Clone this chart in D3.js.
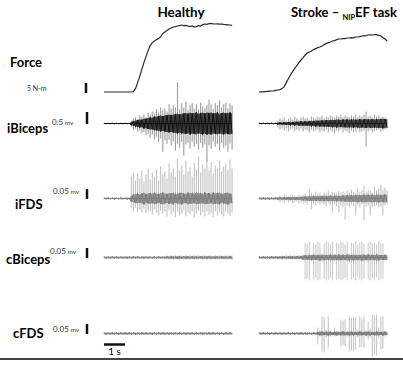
<!DOCTYPE html>
<html>
<head>
<meta charset="utf-8">
<script src="https://cdn.jsdelivr.net/npm/d3@7"></script>
<style>
  body { margin: 0; background: #fff; }
  text { font-family: Lato, "Open Sans", sans-serif; }
</style>
</head>
<body>
<svg id="chart"></svg>
<script>
// one sample every 0.1 s, 62 samples per trace (0 .. 6.1 s)
const sampleStep = 0.1;

// force, N-m
const forceHealthy = [0,0,0,0,0,0,0,0,0,0,0,0,0,0,0.2,1.7,4.7,7.7,11.2,14.7,17.7,20.7,23.2,24.7,25.5,26.2,26.7,27.7,29.2,30,
  30.7,31.5,32,32.5,32.7,33,33.2,33.5,33.2,33.3,33,32.7,33,32.5,32.7,33.2,33,33.7,34,33.8,34.2,34.3,34.1,34,34.1,33.9,34,33.8,33.7,33.6,33.5,33.3];
const forceStroke = [0,0.1,0.1,0.2,0.3,0.4,0.5,0.6,0.8,1,1.2,1.7,2.7,4.7,6.7,8.5,10.2,11.7,13.2,14.7,16,17.2,18.5,19.5,20,20.5,21.2,21.7,22.2,22.5,
  23,23.7,24.2,24.7,25,25.5,25.7,26.2,26.5,26.5,26.7,26.7,27,27,27.2,27.1,27.5,27.5,27.7,28,28.1,28.2,28.5,28.6,28.5,28.7,28.7,28.3,28,27.2,26.5,25.5];

// EMG, microvolts: dense core amplitude, peak above, peak below
const iBicepsHealthyCore = [10,12,10,11,10,12,10,11,10,12,10,11,12,60,100,130,150,170,160,210,200,230,250,240,290,280,310,330,300,340,350,370,350,380,400,420,370,410,420,440,410,460,420,440,460,410,440,460,420,460,440,460,420,440,460,410,440,460,420,440,460,420];
const iBicepsHealthyUp = [17,20,15,18,17,20,15,18,17,20,15,18,20,130,210,250,170,340,290,380,250,460,380,500,420,590,460,670,550,630,500,800,630,760,670,1720,590,840,670,920,550,760,840,630,800,590,880,710,630,760,1000,800,590,840,760,960,670,800,880,630,840,760];
const iBicepsHealthyDown = [17,15,20,17,18,15,20,17,18,15,20,17,15,130,250,210,340,290,420,340,500,420,590,460,670,550,760,630,1180,710,840,670,920,760,1130,840,1010,760,1340,880,800,1050,760,970,840,1090,800,1010,880,1600,920,1050,760,970,840,1130,800,1010,920,1180,840,1090];
const iBicepsStrokeCore = [17,15,17,18,15,17,16,18,17,42,50,42,63,55,63,76,63,84,76,84,92,84,105,92,105,118,105,126,118,126,134,126,147,134,147,160,147,168,160,147,168,160,176,160,168,176,160,168,189,168,176,189,168,181,189,168,189,176,189,202,189,168];
const iBicepsStrokeUp = [20,21,19,22,20,21,19,20,21,126,210,168,252,126,210,252,168,294,210,168,252,294,210,252,168,294,252,210,294,252,336,210,294,252,336,294,252,336,294,378,252,336,294,252,336,294,378,252,336,294,378,504,294,336,252,378,294,336,252,294,252,210];
const iBicepsStrokeDown = [18,20,21,19,20,22,19,21,20,168,252,210,294,210,336,252,210,336,252,294,210,336,252,294,378,252,336,294,252,378,294,336,252,378,294,336,420,294,336,252,378,294,336,420,294,378,336,252,378,336,294,970,336,294,378,336,294,252,336,294,252,210];

const iFdsHealthyCore = [3,3,4,3,3,4,3,3,4,3,3,4,3,15,20,23,25,20,25,30,23,25,28,23,30,25,23,28,30,25,23,28,25,30,23,25,28,30,25,23,30,25,28,23,30,25,28,23,30,25,28,23,30,25,28,30,23,25,28,30,25,23];
const iFdsHealthyUp = [4,5,4,4,5,4,5,4,4,5,4,5,4,110,130,90,125,100,140,85,120,150,95,130,110,145,90,160,120,135,100,175,130,150,110,200,140,165,120,190,135,155,110,180,145,210,130,170,150,220,140,180,125,165,150,190,135,160,175,140,195,150];
const iFdsHealthyDown = [4,4,5,4,4,5,4,4,5,4,4,5,4,50,60,45,65,55,70,50,75,60,65,80,55,70,85,60,75,65,90,60,80,70,95,65,85,75,60,90,70,80,65,95,75,60,85,70,90,65,80,75,95,65,85,70,80,90,65,75,85,70];
const iFdsStrokeCore = [4,4,5,4,4,5,4,4,5,5,6,5,7,6,7,8,6,7,8,7,8,10,11,10,12,11,13,12,11,13,12,14,12,13,15,13,14,15,13,14,15,15,17,16,18,16,17,19,17,18,20,18,19,17,20,18,19,20,18,19,20,18];
const iFdsStrokeUp = [5,4,5,6,5,4,5,6,5,10,15,10,20,15,10,15,20,15,10,20,15,20,25,15,50,30,20,35,25,30,20,30,25,40,20,35,30,25,40,30,35,25,40,30,45,35,30,50,35,40,65,35,45,40,30,60,40,50,70,45,55,40];
const iFdsStrokeDown = [5,5,4,5,6,5,5,4,5,10,20,15,25,10,20,15,25,20,15,25,20,25,20,30,15,55,25,35,20,30,25,30,40,25,35,70,30,40,70,35,45,105,35,45,30,40,85,35,45,30,110,40,35,85,45,40,35,45,40,85,35,30];

const cBicepsHealthyCore = [4,5,4,4,5,4,5,4,4,5,4,5,4,4,5,4,5,4,4,5,4,5,4,4,5,4,5,4,4,5,6,5,7,6,5,7,6,6,5,7,6,5,7,6,6,5,7,6,5,7,6,6,5,7,6,5,7,6,6,5,7,6];
const cBicepsHealthyUp = [6,5,6,7,5,6,5,7,6,5,6,7,5,6,5,7,6,5,6,7,5,6,7,5,6,5,7,6,5,6,10,8,12,9,11,8,13,10,9,12,8,11,10,13,9,12,8,10,11,9,13,10,8,12,9,11,10,8,12,9,11,10];
const cBicepsHealthyDown = [5,6,7,5,6,5,6,7,5,6,7,5,6,6,5,7,5,6,7,5,6,7,5,6,5,7,6,5,7,6,9,11,8,12,10,9,13,8,11,10,12,9,11,8,13,10,9,12,10,11,8,12,9,10,13,8,11,9,12,10,9,11];
const cBicepsStrokeCore = [5,4,5,5,4,5,6,5,5,6,5,6,6,5,6,7,6,6,7,6,7,10,12,11,13,12,14,12,13,15,12,14,13,12,15,13,14,12,15,13,14,12,15,14,13,15,12,14,13,15,14,13,15,12,14,13,15,14,13,12,14,11];
const cBicepsStrokeUp = [5,6,5,6,5,6,6,5,6,5,8,10,9,12,8,11,9,13,10,12,14,11,75,70,80,15,75,65,80,75,20,70,80,75,65,80,15,75,70,80,75,65,80,20,75,70,80,65,75,80,70,15,75,80,70,75,65,80,75,70,15,10];
const cBicepsStrokeDown = [5,5,6,5,6,5,5,6,5,6,9,11,8,12,10,9,13,10,11,12,10,13,110,105,115,20,110,100,115,110,25,105,115,110,100,115,20,110,105,115,110,100,115,25,110,105,115,100,110,115,105,20,110,115,105,110,100,115,110,105,15,10];

const cFdsHealthyCore = [4,5,4,4,5,4,4,5,4,4,5,4,5,4,4,5,4,4,5,4,5,4,4,5,4,4,5,4,5,4,4,5,4,4,5,4,5,4,4,5,4,4,5,4,5,4,4,5,4,4,5,4,5,4,4,5,4,4,5,4,5,4];
const cFdsHealthyUp = [6,5,7,6,5,6,7,5,6,6,5,7,6,5,6,7,5,6,6,5,7,6,5,6,7,5,6,6,5,7,6,5,6,7,5,6,6,5,7,6,5,6,7,5,6,6,5,7,6,5,6,7,5,6,6,5,7,6,5,6,7,5];
const cFdsHealthyDown = [5,6,6,5,7,6,5,6,7,5,6,5,6,7,5,6,6,5,7,6,5,6,7,5,6,5,6,7,5,6,6,5,7,6,5,6,7,5,6,5,6,7,5,6,6,5,7,6,5,6,7,5,6,5,6,7,5,6,6,5,7,6];
const cFdsStrokeCore = [4,4,5,4,4,5,4,4,5,4,4,5,4,4,5,4,4,5,4,4,5,4,4,5,4,4,5,4,8,9,10,8,9,10,9,8,9,10,8,9,10,9,8,10,9,10,8,9,10,9,8,10,9,10,8,9,10,9,8,10,9,8];
const cFdsStrokeUp = [5,6,5,5,6,5,5,6,5,5,6,5,5,6,5,5,6,5,5,6,5,5,6,5,5,6,5,5,30,15,85,80,20,85,15,10,30,10,10,70,65,70,15,80,75,80,80,20,85,75,85,15,60,25,95,90,95,30,85,85,15,10];
const cFdsStrokeDown = [5,5,6,5,6,5,5,6,5,6,5,5,6,5,6,5,5,6,5,6,5,5,6,5,6,5,5,6,55,15,90,95,20,70,15,10,15,10,10,65,60,65,15,90,85,90,80,20,70,65,70,15,30,20,115,105,110,25,80,75,15,10];

const muscles = ["iBiceps", "iFDS", "cBiceps", "cFDS"];
const calibValues = [500, 50, 50, 50];           // microvolts
const calibLabels = ["0.5", "0.05", "0.05", "0.05"];

// ---- layout ----
const W = 403, H = 368;
const svg = d3.select("#chart").attr("width", W).attr("height", H);

const xPanels = [
  d3.scaleLinear([0, 6.1], [104, 232.1]),
  d3.scaleLinear([0, 6.1], [259, 387.1])
];
const yForce = d3.scaleLinear([0, 35], [92, 22]);

// titles
svg.append("text")
  .attr("x", 181).attr("y", 17)
  .attr("text-anchor", "middle")
  .attr("font-size", 13.5).attr("font-weight", "bold")
  .text("Healthy");

const strokeTitle = svg.append("text")
  .attr("x", 291).attr("y", 17)
  .attr("font-size", 13).attr("font-weight", "bold")
  .attr("textLength", 106).attr("lengthAdjust", "spacingAndGlyphs");
strokeTitle.append("tspan").text("Stroke \u2013 ");
strokeTitle.append("tspan").attr("font-size", 7.5).attr("dy", 3).text("NIP");
strokeTitle.append("tspan").attr("dy", -3).text("EF task");

// force
svg.append("text")
  .attr("x", 10).attr("y", 67)
  .attr("font-size", 13).attr("font-weight", "bold")
  .text("Force");
svg.append("text")
  .attr("x", 27).attr("y", 91)
  .attr("font-size", 7).attr("fill", "#333")
  .text("5 N-m");
svg.append("line")
  .attr("x1", 86).attr("x2", 86)
  .attr("y1", yForce(0) + 1).attr("y2", yForce(5) + 1)
  .attr("stroke", "#111").attr("stroke-width", 2.5);

const forceLine = (x) => d3.line()
  .x((d, i) => x(i * sampleStep))
  .y(d => yForce(d));

[forceHealthy, forceStroke].forEach((series, p) => {
  svg.append("path")
    .datum(series)
    .attr("fill", "none")
    .attr("stroke", "#2a2a2a")
    .attr("stroke-width", 1.2)
    .attr("d", forceLine(xPanels[p]));
});

// EMG rows
const emgData = [
  [[iBicepsHealthyCore, iBicepsHealthyUp, iBicepsHealthyDown], [iBicepsStrokeCore, iBicepsStrokeUp, iBicepsStrokeDown]],
  [[iFdsHealthyCore, iFdsHealthyUp, iFdsHealthyDown], [iFdsStrokeCore, iFdsStrokeUp, iFdsStrokeDown]],
  [[cBicepsHealthyCore, cBicepsHealthyUp, cBicepsHealthyDown], [cBicepsStrokeCore, cBicepsStrokeUp, cBicepsStrokeDown]],
  [[cFdsHealthyCore, cFdsHealthyUp, cFdsHealthyDown], [cFdsStrokeCore, cFdsStrokeUp, cFdsStrokeDown]]
];

const rowStyle = [
  { base: 123.5, calibPx: 12, labelX: 7, labelY: 133, calibX: 52, calibY: 124.5, core: ["#111", "#1c1c1c"], spike: ["#9c9c9c", "#a8a8a8"] },
  { base: 198.5, calibPx: 10, labelX: 15, labelY: 209, calibX: 53, calibY: 194, core: ["#7c7c7c", "#808080"], spike: ["#c2c2c2", "#c4c4c4"] },
  { base: 257.5, calibPx: 10, labelX: 6, labelY: 264, calibX: 50, calibY: 253.5, core: ["#858585", "#7e7e7e"], spike: ["#cfcfcf", "#cdcdcd"] },
  { base: 333.5, calibPx: 10, labelX: 13, labelY: 338, calibX: 53, calibY: 332, core: ["#808080", "#7a7a7a"], spike: ["#c8c8c8", "#c6c6c6"] }
];

muscles.forEach((name, r) => {
  const st = rowStyle[r];
  const y = d3.scaleLinear([0, calibValues[r]], [st.base, st.base - st.calibPx]);

  svg.append("text")
    .attr("x", st.labelX).attr("y", st.labelY)
    .attr("font-size", 13).attr("font-weight", "bold")
    .text(name);

  const cal = svg.append("text")
    .attr("x", st.calibX).attr("y", st.calibY)
    .attr("fill", "#333");
  cal.append("tspan").attr("font-size", 8).text(calibLabels[r]);
  cal.append("tspan").attr("font-size", 6.5).text(" mv");

  svg.append("line")
    .attr("x1", 87).attr("x2", 87)
    .attr("y1", y(0) + 0.5).attr("y2", y(calibValues[r]) + 0.5)
    .attr("stroke", "#111").attr("stroke-width", 2.5);

  emgData[r].forEach(([core, up, down], p) => {
    const x = xPanels[p];
    const g = svg.append("g");

    // light spikes, one per sample
    g.selectAll("line")
      .data(up)
      .join("line")
      .attr("x1", (d, i) => x(i * sampleStep))
      .attr("x2", (d, i) => x(i * sampleStep))
      .attr("y1", d => y(d))
      .attr("y2", (d, i) => y(-down[i]))
      .attr("stroke", st.spike[p])
      .attr("stroke-width", 1.1);

    // dense core envelope
    const band = d3.area()
      .x((d, i) => x(i * sampleStep))
      .y0(d => y(-d))
      .y1(d => y(d));
    g.append("path")
      .datum(core)
      .attr("fill", st.core[p])
      .attr("fill-opacity", 0.75)
      .attr("d", band);

    // trace swings between +core and -core on alternate samples
    const swing = d3.line()
      .x((d, i) => x(i * sampleStep))
      .y((d, i) => y(i % 2 ? -d : d));
    g.append("path")
      .datum(core)
      .attr("fill", "none")
      .attr("stroke", st.core[p])
      .attr("stroke-width", 1)
      .attr("d", swing);

    g.append("line")
      .attr("x1", x(0)).attr("x2", x(6.1))
      .attr("y1", y(0)).attr("y2", y(0))
      .attr("stroke", st.core[p])
      .attr("stroke-width", 1);
  });
});

// time calibration bar
svg.append("line")
  .attr("x1", xPanels[0](0)).attr("x2", xPanels[0](1))
  .attr("y1", 344.5).attr("y2", 344.5)
  .attr("stroke", "#111").attr("stroke-width", 2.5);
svg.append("text")
  .attr("x", (xPanels[0](0) + xPanels[0](1)) / 2).attr("y", 355)
  .attr("text-anchor", "middle")
  .attr("font-size", 10)
  .text("1 s");

// bottom rule
svg.append("line")
  .attr("x1", 0).attr("x2", W)
  .attr("y1", 359).attr("y2", 359)
  .attr("stroke", "#444").attr("stroke-width", 2);
</script>
</body>
</html>
